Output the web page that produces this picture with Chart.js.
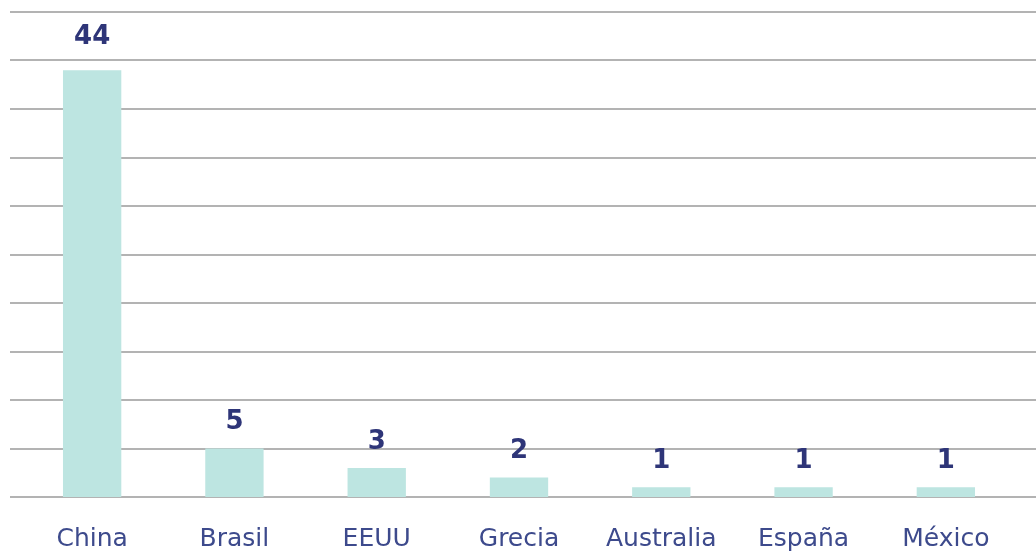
<!DOCTYPE html>
<html>
<head>
<meta charset="utf-8">
<script src="https://cdn.jsdelivr.net/npm/chart.js@4"></script>
<style>
  html, body { margin: 0; padding: 0; background: #fff; }
  #wrap { width: 1036px; height: 552px; }
</style>
</head>
<body>
<div id="wrap"><canvas id="chart" width="1036" height="552"></canvas></div>
<script>
const countries = ["China", "Brasil", "EEUU", "Grecia", "Australia", "España", "México"];
const counts = [44, 5, 3, 2, 1, 1, 1];
const gridTicks = [0, 5, 10, 15, 20, 25, 30, 35, 40, 45, 50];

// horizontal grid drawn across the whole canvas width
const fullGrid = {
  id: "fullGrid",
  beforeDatasetsDraw(chart) {
    const ctx = chart.ctx;
    const y = chart.scales.y;
    ctx.save();
    ctx.strokeStyle = "#b3b3b3";
    ctx.lineWidth = 2;
    gridTicks.forEach(t => {
      const py = Math.round(y.getPixelForValue(t));
      ctx.beginPath();
      ctx.moveTo(10, py);
      ctx.lineTo(chart.width, py);
      ctx.stroke();
    });
    ctx.restore();
  }
};

const valueLabels = {
  id: "valueLabels",
  afterDatasetsDraw(chart) {
    const ctx = chart.ctx;
    const meta = chart.getDatasetMeta(0);
    ctx.save();
    ctx.fillStyle = "#2e3578";
    ctx.font = "bold 26px 'DejaVu Sans', sans-serif";
    ctx.textAlign = "center";
    ctx.textBaseline = "bottom";
    meta.data.forEach((bar, i) => {
      const gap = counts[i] > 10 ? 20 : 13;
      ctx.fillText(String(counts[i]), bar.x, bar.y - gap);
    });
    ctx.restore();
  }
};

new Chart(document.getElementById("chart"), {
  type: "bar",
  data: {
    labels: countries,
    datasets: [{
      data: counts,
      backgroundColor: "#bde5e1",
      barPercentage: 0.41,
      categoryPercentage: 1
    }]
  },
  options: {
    responsive: false,
    animation: false,
    layout: { padding: { left: 21, right: 19, top: 12, bottom: 0 } },
    plugins: { legend: { display: false }, tooltip: { enabled: false } },
    scales: {
      x: {
        grid: { display: false },
        border: { display: false },
        afterFit(scale) { scale.height = 55; },
        ticks: {
          color: "#3d4a8c",
          padding: 19,
          maxRotation: 0,
          font: { size: 25, family: "'DejaVu Sans', sans-serif" }
        }
      },
      y: {
        min: 0,
        max: 50,
        display: false
      }
    }
  },
  plugins: [fullGrid, valueLabels]
});
</script>
</body>
</html>
